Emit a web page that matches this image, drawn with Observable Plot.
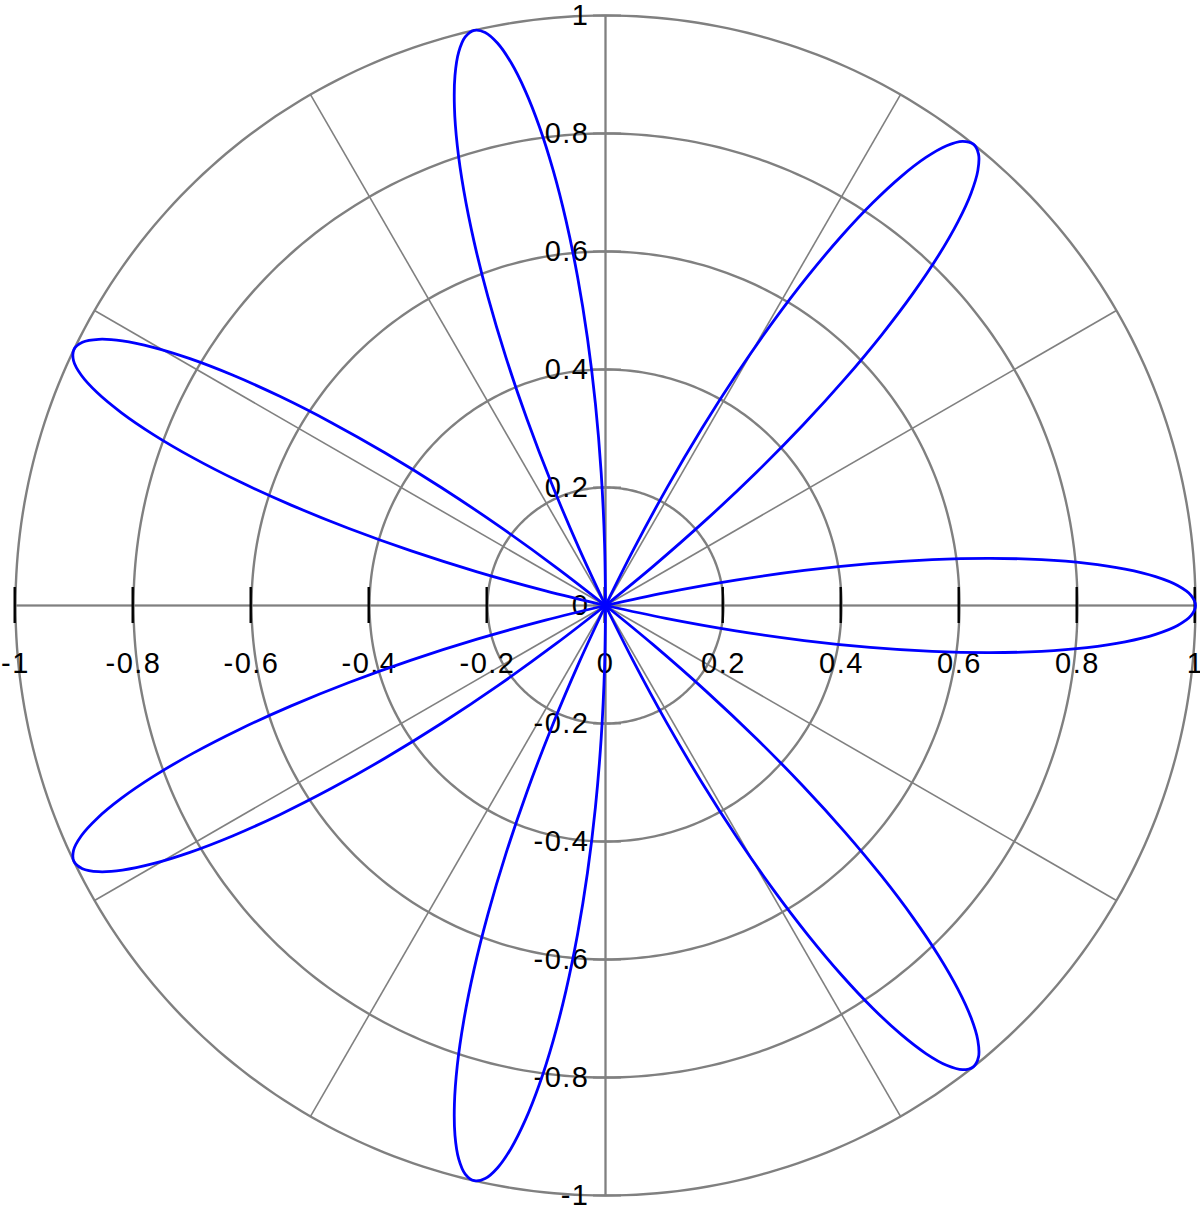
<!DOCTYPE html>
<html>
<head>
<meta charset="utf-8">
<script src="https://cdn.jsdelivr.net/npm/d3@7"></script>
<script src="https://cdn.jsdelivr.net/npm/@observablehq/plot@0.6"></script>
<style>
  html, body { margin: 0; padding: 0; background: #fff; }
  #chart { width: 1200px; height: 1207px; overflow: hidden; }
  #chart text { letter-spacing: 1.5px; }
</style>
</head>
<body>
<div id="chart"></div>
<script>
// Petal axis directions (degrees, counter-clockwise from +x)
const petalAngles = [0, 51.43, 102.86, 154.29, 205.71, 257.14, 308.57];
// One petal profile: angular offset from petal axis (degrees) and radius
const profileOffset = [0, 1, 2, 3, 4, 5, 6, 7, 8, 9, 10, 11, 12, 12.857];
const profileR = [1, 0.9925, 0.9703, 0.9336, 0.8829, 0.8192, 0.7431, 0.6561, 0.5592, 0.4540, 0.3420, 0.2250, 0.1045, 0];
// Grid / axis
const ringRadii = [0.2, 0.4, 0.6, 0.8, 1.0];
const spokeAngles = [0, 30, 60, 90, 120, 150, 180, 210, 240, 270, 300, 330];
const tickValues = [-1, -0.8, -0.6, -0.4, -0.2, 0, 0.2, 0.4, 0.6, 0.8, 1];
const tickLabels = ["-1", "-0.8", "-0.6", "-0.4", "-0.2", "0", "0.2", "0.4", "0.6", "0.8", "1"];

const rad = Math.PI / 180;

// Build petal point table
const curve = [];
petalAngles.forEach((a, p) => {
  const offs = [];
  const rs = [];
  for (let i = profileOffset.length - 1; i >= 0; i--) { offs.push(-profileOffset[i]); rs.push(profileR[i]); }
  for (let i = 1; i < profileOffset.length; i++) { offs.push(profileOffset[i]); rs.push(profileR[i]); }
  offs.forEach((o, i) => {
    const t = (a + o) * rad;
    curve.push({petal: p, x: rs[i] * Math.cos(t), y: rs[i] * Math.sin(t)});
  });
});

// Ring polylines
const rings = [];
ringRadii.forEach(r => {
  for (let d = 0; d <= 360; d += 1) rings.push({ring: r, x: r * Math.cos(d * rad), y: r * Math.sin(d * rad)});
});

// Spokes
const spokes = spokeAngles.map(a => ({x1: 0, y1: 0, x2: Math.cos(a * rad), y2: Math.sin(a * rad)}));

const ticks = tickValues.map((v, i) => ({v, label: tickLabels[i]}));

const chart = Plot.plot({
  width: 1200,
  height: 1207,
  marginLeft: 15,
  marginRight: 5,
  marginTop: 15,
  marginBottom: 12,
  x: {domain: [-1, 1], axis: null},
  y: {domain: [-1, 1], axis: null},
  style: {fontFamily: "'Liberation Sans', Arial, sans-serif", background: "white", overflow: "hidden"},
  marks: [
    Plot.link(spokes, {x1: "x1", y1: "y1", x2: "x2", y2: "y2", stroke: "#808080", strokeWidth: 1.6}),
    Plot.ruleY(ticks, {y: "v", x1: 0, x2: 0, insetLeft: -12, insetRight: -16, stroke: "#808080", strokeWidth: 2}),
    Plot.line(rings, {x: "x", y: "y", z: "ring", stroke: "#808080", strokeWidth: 2.4}),
    Plot.ruleY([0], {x1: -1, x2: 1, stroke: "#808080", strokeWidth: 2}),
    Plot.ruleX([0], {y1: -1, y2: 1, stroke: "#808080", strokeWidth: 2}),
    Plot.ruleX(ticks, {x: "v", y1: 0, y2: 0, insetTop: -18, insetBottom: -18, dx: -0.8, stroke: "#000", strokeWidth: 2.4}),
    Plot.text(ticks, {x: "v", y: 0, text: "label", dy: 58, textAnchor: "middle", fontSize: 29, fill: "#000"}),
    Plot.text(ticks, {x: 0, y: "v", text: "label", dx: -16, dy: 0, textAnchor: "end", fontSize: 29, fill: "#000"}),
    Plot.line(curve, {x: "x", y: "y", z: "petal", stroke: "#0000ff", strokeWidth: 2.8, curve: "catmull-rom"})
  ]
});
document.getElementById("chart").appendChild(chart);
</script>
</body>
</html>
